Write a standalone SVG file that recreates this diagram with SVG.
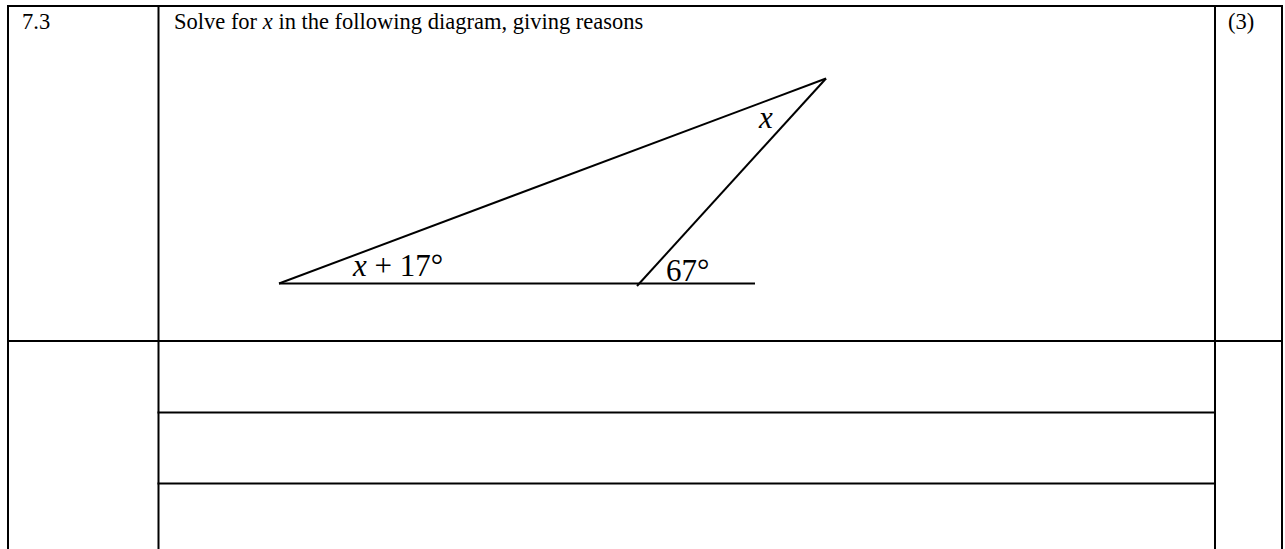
<svg xmlns="http://www.w3.org/2000/svg" width="1285" height="549" viewBox="0 0 1285 549">
<style>
.grid{stroke:#000;stroke-width:2;fill:none;stroke-linecap:square}
.fig{stroke:#000;stroke-width:2;fill:none;stroke-linecap:butt}
.t{font-family:"Liberation Serif","Times New Roman",serif;font-size:22.5px;fill:#000}
.m{font-family:"Liberation Serif","Times New Roman",serif;font-size:31px;fill:#000}
.mi{font-style:italic}
</style>
<rect width="1285" height="549" fill="#fff"/>
<g id="table">
<line class="grid" x1="8" y1="6" x2="1282" y2="6"/>
<line class="grid" x1="8" y1="6" x2="8" y2="549"/>
<line class="grid" x1="158.5" y1="6" x2="158.5" y2="549"/>
<line class="grid" x1="1215" y1="6" x2="1215" y2="549"/>
<line class="grid" x1="1282" y1="6" x2="1282" y2="549"/>
<line class="grid" x1="8" y1="341" x2="1282" y2="341"/>
<line class="grid" x1="158.5" y1="412.5" x2="1215" y2="412.5"/>
<line class="grid" x1="158.5" y1="483.5" x2="1215" y2="483.5"/>
</g>
<g id="texts">
<text class="t" x="22" y="29">7.3</text>
<text class="t" x="174" y="29">Solve for <tspan class="mi">x</tspan> in the following diagram, giving reasons</text>
<text class="t" x="1228" y="29">(3)</text>
</g>
<g id="triangle">
<line class="fig" x1="279" y1="283.5" x2="755" y2="283.5"/>
<line class="fig" x1="279" y1="283.5" x2="826" y2="78.5"/>
<line class="fig" x1="826" y1="78.5" x2="637" y2="286"/>
</g>
<g id="labels">
<text class="m mi" x="759" y="128">x</text>
<text class="m" x="353" y="276"><tspan class="mi">x</tspan> + 17°</text>
<text class="m" x="666" y="281">67°</text>
</g>
</svg>
